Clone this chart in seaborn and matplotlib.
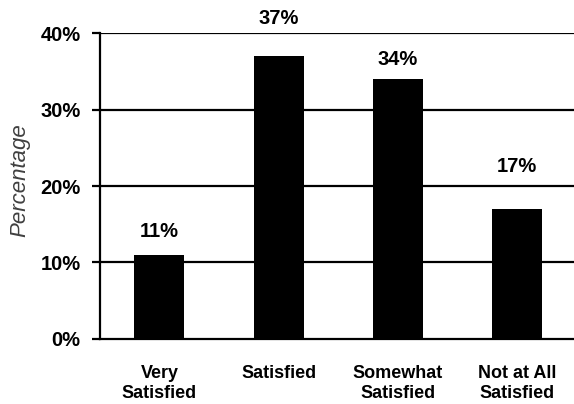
import numpy as np
import pandas as pd
import matplotlib
matplotlib.use("Agg")
import matplotlib.pyplot as plt
import seaborn as sns

# datos del grafico
categories = ["Very\nSatisfied", "Satisfied", "Somewhat\nSatisfied", "Not at All\nSatisfied"]
values = [11, 37, 34, 17]
yticks = [0, 10, 20, 30, 40]
ytick_labels = ["0%", "10%", "20%", "30%", "40%"]

sns.set_theme(style="white", rc={"text.color": "black", "xtick.color": "black",
                                 "ytick.color": "black", "axes.labelcolor": "black"})
plt.rcParams['font.family'] = ['Liberation Sans', 'DejaVu Sans']

df = pd.DataFrame({"cat": categories, "val": values})

fig = plt.figure(figsize=(5.74, 4.04), dpi=100)
ax = fig.add_axes([0.174, 0.161, 0.830, 0.757])

# lineas de cuadricula detras de las barras
for y in yticks[1:]:
    ax.axhline(y, color="black", lw=1.6, zorder=0)

sns.barplot(data=df, x="cat", y="val", color="black", width=0.42,
            saturation=1, edgecolor="black", linewidth=0, ax=ax, zorder=2)

# etiquetas de valor (desplazamiento en puntos, como en el original)
offsets = [10, 20, 7, 24]
for i, (v, off) in enumerate(zip(values, offsets)):
    ax.annotate(f"{v}%", (i, v), xytext=(0, off), textcoords="offset points",
                ha="center", va="bottom", fontsize=14.5, fontweight="bold",
                color="black", annotation_clip=False)

ax.set_xlim(-0.5, 3.5)
ax.set_ylim(0, 40)
ax.set_yticks(yticks)
ax.set_yticklabels(ytick_labels, fontsize=14.5, fontweight="bold")
ax.set_xticks(range(len(categories)))
ax.set_xticklabels(categories, fontsize=13, fontweight="bold", linespacing=1.2)
ax.set_xticks([-0.5, 0.5, 1.5, 2.5, 3.5], minor=True)
ax.tick_params(axis="x", which="major", length=0, pad=19)
ax.tick_params(axis="x", which="minor", length=6, width=1.6, direction="out", color="black")
ax.tick_params(axis="y", length=6, width=1.6, direction="out", color="black", pad=8)
ax.tick_params(left=True, bottom=True)

ax.set_xlabel("")
ax.set_ylabel("Percentage", fontsize=16, style="italic", color="#404040")
ax.yaxis.set_label_coords(-0.145, 0.52)

for s in ["top", "right"]:
    ax.spines[s].set_visible(False)
for s in ["left", "bottom"]:
    ax.spines[s].set_color("black")
    ax.spines[s].set_linewidth(1.6)

fig.savefig("out.png", dpi=100)
